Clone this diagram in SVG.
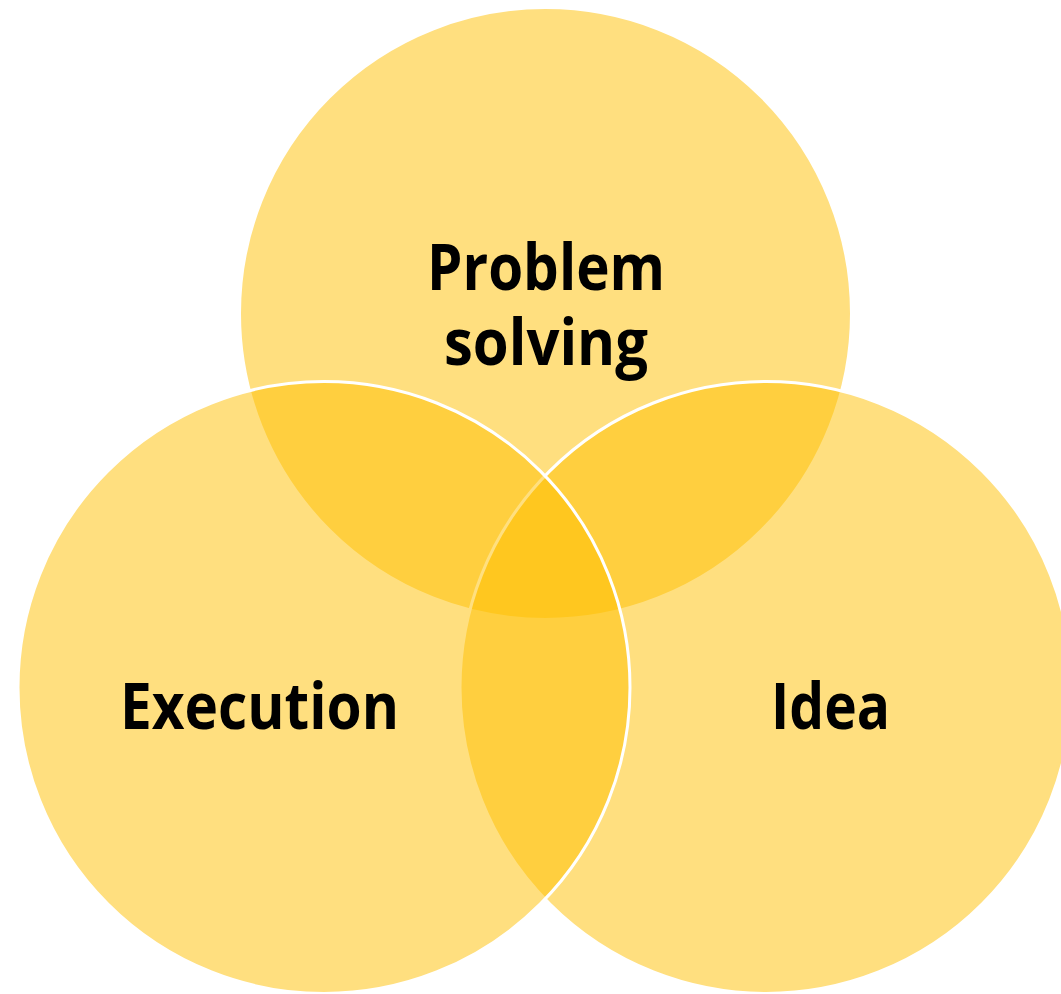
<svg xmlns="http://www.w3.org/2000/svg" width="1061" height="994" viewBox="0 0 1061 994">
  <style>
    .set { fill: #FFBF00; fill-opacity: 0.5; stroke: #FFFFFF; stroke-width: 3; }
    .label { font-family: "Open Sans", "Noto Sans", "Liberation Sans", sans-serif; font-weight: 700; font-size: 65px; fill: #000000; text-anchor: middle; }
  </style>
  <rect width="1061" height="994" fill="#FFFFFF"/>
  <g id="problem-solving">
    <circle class="set" cx="545.5" cy="313.5" r="306"/>
  </g>
  <g id="idea">
    <circle class="set" cx="766" cy="687.5" r="306"/>
  </g>
  <g id="execution">
    <circle class="set" cx="324" cy="687.5" r="306"/>
  </g>
  <g id="connectors"></g>
  <g id="labels">
    <text class="label" x="546" y="290" textLength="238" lengthAdjust="spacingAndGlyphs">Problem</text>
    <text class="label" x="546" y="365" textLength="204" lengthAdjust="spacingAndGlyphs">solving</text>
    <text class="label" x="259.5" y="729" textLength="279" lengthAdjust="spacingAndGlyphs">Execution</text>
    <text class="label" x="830.5" y="729" textLength="119" lengthAdjust="spacingAndGlyphs">Idea</text>
  </g>
</svg>
